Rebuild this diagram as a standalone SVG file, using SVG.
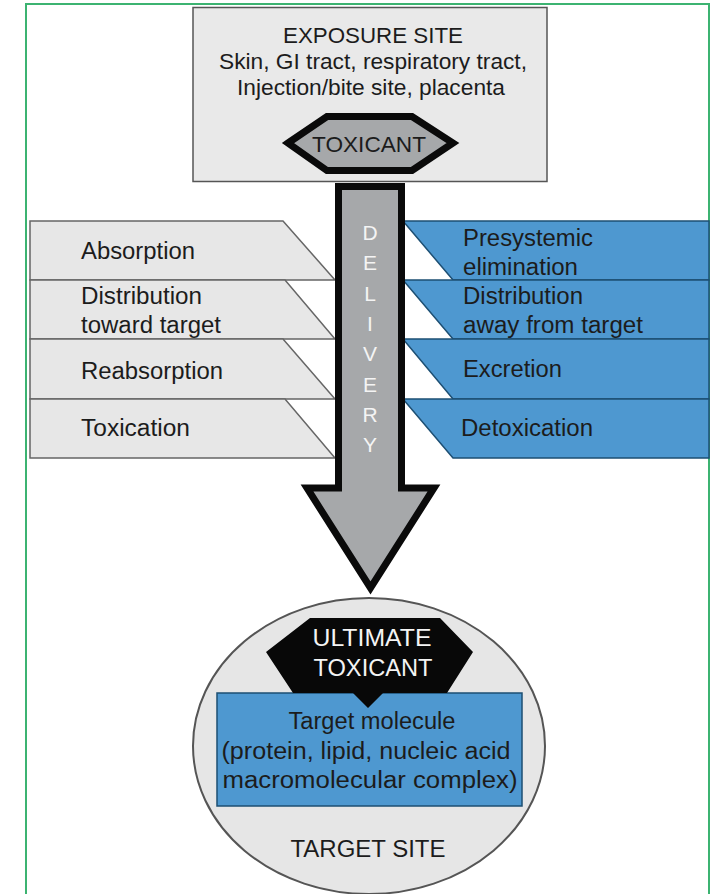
<svg xmlns="http://www.w3.org/2000/svg" width="713" height="894" viewBox="0 0 713 894">
<style>
text{font-family:"Liberation Sans",Arial,sans-serif;fill:#1c1c1c;}
.t21{font-size:22px;}
.t22{font-size:23px;}
.lb{fill:#e7e7e7;stroke:#666;stroke-width:1.5;}
.rb{fill:#4e98d0;stroke:#1d4f73;stroke-width:1.5;}
.w{fill:#f4f4f4;}
.dl{font-size:21px;fill:#f4f4f4;}
</style>
<rect x="0" y="0" width="713" height="894" fill="#fff"/>
<path d="M26 894 V4 H709 V894" fill="none" stroke="#3cb371" stroke-width="2"/>

<g id="left-blocks">
<g id="absorption"><polygon class="lb" points="30,221 283,221 335,280 30,280"/><text class="t22" x="81" y="259" textLength="114" lengthAdjust="spacingAndGlyphs">Absorption</text></g>
<g id="distribution-toward"><polygon class="lb" points="30,280 285,280 335,339 30,339"/><text class="t22" x="81" y="304" textLength="121" lengthAdjust="spacingAndGlyphs">Distribution</text><text class="t22" x="81" y="333" textLength="140" lengthAdjust="spacingAndGlyphs">toward target</text></g>
<g id="reabsorption"><polygon class="lb" points="30,339 283,339 335,399 30,399"/><text class="t22" x="81" y="379" textLength="142" lengthAdjust="spacingAndGlyphs">Reabsorption</text></g>
<g id="toxication"><polygon class="lb" points="30,399 285,399 335,458 30,458"/><text class="t22" x="81" y="436" textLength="109" lengthAdjust="spacingAndGlyphs">Toxication</text></g>
</g>

<g id="right-blocks">
<g id="presystemic"><polygon class="rb" points="403,221 709,221 709,280 453,280"/><text class="t22" x="463" y="246" textLength="130" lengthAdjust="spacingAndGlyphs">Presystemic</text><text class="t22" x="463" y="275" textLength="115" lengthAdjust="spacingAndGlyphs">elimination</text></g>
<g id="distribution-away"><polygon class="rb" points="403,280 709,280 709,339 453,339"/><text class="t22" x="463" y="304" textLength="120" lengthAdjust="spacingAndGlyphs">Distribution</text><text class="t22" x="463" y="333" textLength="180" lengthAdjust="spacingAndGlyphs">away from target</text></g>
<g id="excretion"><polygon class="rb" points="403,339 709,339 709,399 453,399"/><text class="t22" x="463" y="377" textLength="99" lengthAdjust="spacingAndGlyphs">Excretion</text></g>
<g id="detoxication"><polygon class="rb" points="403,399 709,399 709,458 453,458"/><text class="t22" x="461" y="436" textLength="132" lengthAdjust="spacingAndGlyphs">Detoxication</text></g>
</g>

<g id="connectors">
<polygon points="338.5,186.5 401.5,186.5 401.5,488 434,488 370.5,588 307,488 338.5,488" fill="#a6a8aa" stroke="#0a0a0a" stroke-width="7" stroke-linejoin="miter"/>
<g text-anchor="middle">
<text class="dl" x="370" y="240">D</text>
<text class="dl" x="370" y="270">E</text>
<text class="dl" x="370" y="301">L</text>
<text class="dl" x="370" y="331">I</text>
<text class="dl" x="370" y="361">V</text>
<text class="dl" x="370" y="392">E</text>
<text class="dl" x="370" y="422">R</text>
<text class="dl" x="370" y="452">Y</text>
</g>
</g>

<g id="exposure-site">
<rect x="193" y="7.5" width="354" height="174" fill="#e9e9e9" stroke="#555" stroke-width="1.5"/>
<g text-anchor="middle">
<text class="t21" x="373" y="43" textLength="180" lengthAdjust="spacingAndGlyphs">EXPOSURE SITE</text>
<text class="t21" x="373" y="69" textLength="308" lengthAdjust="spacingAndGlyphs">Skin, GI tract, respiratory tract,</text>
<text class="t21" x="371" y="95" textLength="268" lengthAdjust="spacingAndGlyphs">Injection/bite site, placenta</text>
</g>
</g>

<g id="toxicant">
<polygon points="288,143 327,116.5 412,116.5 453,143 412,170.5 327,170.5" fill="#a6a8aa" stroke="#0a0a0a" stroke-width="7"/>
<text class="t21" x="369" y="152" text-anchor="middle" textLength="114" lengthAdjust="spacingAndGlyphs">TOXICANT</text>
</g>

<g id="target-site">
<ellipse cx="369" cy="746" rx="176" ry="148" fill="#e6e6e6" stroke="#555" stroke-width="2"/>
<text class="t22" x="368" y="857" text-anchor="middle" textLength="155" lengthAdjust="spacingAndGlyphs">TARGET SITE</text>
</g>

<g id="target-molecule">
<rect x="217" y="693" width="305" height="113" fill="#4e98d0" stroke="#1d4f73" stroke-width="1.5"/>
<g text-anchor="middle">
<text class="t22" x="372" y="729" textLength="167" lengthAdjust="spacingAndGlyphs">Target molecule</text>
<text class="t22" x="366" y="759" textLength="289" lengthAdjust="spacingAndGlyphs">(protein, lipid, nucleic acid</text>
<text class="t22" x="370" y="788" textLength="295" lengthAdjust="spacingAndGlyphs">macromolecular complex)</text>
</g>
</g>

<g id="ultimate-toxicant">
<polygon points="310,618 440,618 473,652 447,693 383,693 368,708 353,693 293,693 266,652" fill="#080808"/>
<g text-anchor="middle">
<text class="t22 w" x="372" y="646" textLength="119" lengthAdjust="spacingAndGlyphs">ULTIMATE</text>
<text class="t22 w" x="373" y="676" textLength="119" lengthAdjust="spacingAndGlyphs">TOXICANT</text>
</g>
</g>
</svg>
